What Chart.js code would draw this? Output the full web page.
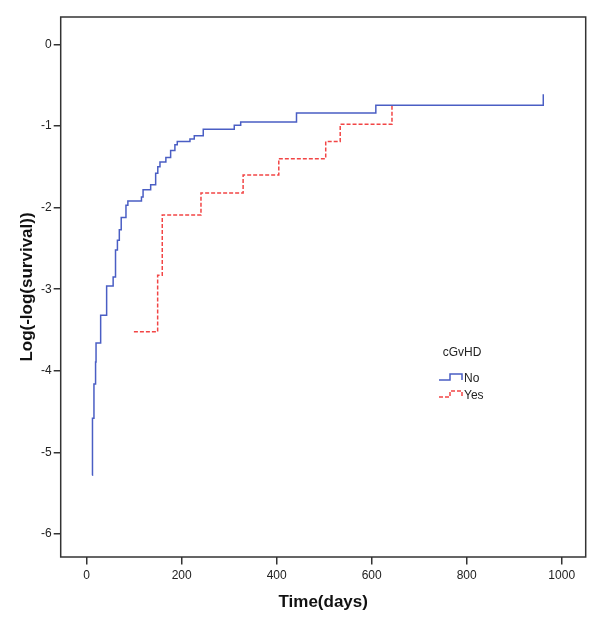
<!DOCTYPE html>
<html>
<head>
<meta charset="utf-8">
<script src="https://cdn.jsdelivr.net/npm/chart.js@4"></script>
<style>
	body { margin: 0; background: #fff; }
	#wrap { width: 600px; height: 634px; }
</style>
</head>
<body>
<div id="wrap"><canvas id="myChart"></canvas></div>
<script>
// cGvHD = No
const noTimes = [11.7, 12.2, 15.3, 18.7, 19.7, 29.4, 42, 55.7, 60.7, 64.7, 68.7, 72.7, 82.7, 86.7, 115.3, 118.7, 134.7, 145.2, 149.7, 154.3, 166.7, 176.7, 185.7, 190.7, 217.4, 226.5, 245.4, 310.7, 324.2, 441.7, 608.7, 961.2];
const noValues = [-5.28, -4.58, -4.16, -3.89, -3.66, -3.32, -2.96, -2.85, -2.52, -2.4, -2.27, -2.12, -1.97, -1.92, -1.87, -1.78, -1.72, -1.58, -1.5, -1.44, -1.385, -1.3, -1.23, -1.19, -1.16, -1.12, -1.04, -0.99, -0.95, -0.84, -0.745, -0.61];

// cGvHD = Yes
const yesTimes = [99.4, 149.4, 159.1, 240.6, 329.3, 404.4, 503.2, 533.7, 642.7];
const yesValues = [-3.52, -2.83, -2.09, -1.82, -1.6, -1.4, -1.19, -0.98, -0.745];

const xTicks = [0, 200, 400, 600, 800, 1000];
const yTicks = [0, -1, -2, -3, -4, -5, -6];

const toPoints = (xs, ys) => xs.map((x, i) => ({ x: x, y: ys[i] }));

// box round the plot and the legend inside it
const framePlugin = {
	id: "frame",
	afterDraw(chart) {
		const ctx = chart.ctx;
		const a = chart.chartArea;
		ctx.save();
		ctx.strokeStyle = "#333";
		ctx.lineWidth = 1.5;
		ctx.strokeRect(a.left, a.top, a.right - a.left, a.bottom - a.top);

		// legend
		ctx.fillStyle = "#222";
		ctx.font = "12px 'Liberation Sans', Arial, sans-serif";
		ctx.textAlign = "center";
		ctx.textBaseline = "middle";
		ctx.fillText("cGvHD", 462, 353);

		ctx.textAlign = "left";
		chart.data.datasets.forEach((ds, i) => {
			const y = 380 + i * 17;
			ctx.beginPath();
			ctx.strokeStyle = ds.borderColor;
			ctx.lineWidth = ds.borderWidth;
			ctx.setLineDash(ds.borderDash || []);
			ctx.moveTo(439, y);
			ctx.lineTo(450, y);
			ctx.lineTo(450, y - 6);
			ctx.lineTo(462, y - 6);
			ctx.lineTo(462, y);
			ctx.stroke();
			ctx.setLineDash([]);
			ctx.fillStyle = "#222";
			ctx.fillText(ds.label, 464, y - 1);
		});
		ctx.restore();
	},
};

const tickFont = { family: "'Liberation Sans', Arial, sans-serif", size: 12 };
const titleFont = { family: "'Liberation Sans', Arial, sans-serif", size: 17, weight: "bold" };

const config = {
	type: "line",
	data: {
		datasets: [
			{
				label: "No",
				data: toPoints(noTimes, noValues),
				borderColor: "#4a5ec4",
				borderWidth: 1.5,
				stepped: true,
				pointRadius: 0,
				fill: false,
			},
			{
				label: "Yes",
				data: toPoints(yesTimes, yesValues),
				borderColor: "#f24545",
				borderWidth: 1.5,
				borderDash: [4, 2],
				stepped: true,
				pointRadius: 0,
				fill: false,
			},
		],
	},
	options: {
		responsive: true,
		maintainAspectRatio: false,
		animation: false,
		layout: { padding: { top: 17, right: 14.3, left: 0, bottom: 0 } },
		plugins: {
			legend: { display: false },
			tooltip: { enabled: false },
		},
		scales: {
			x: {
				type: "linear",
				min: -54.7,
				max: 1050.5,
				afterBuildTicks: (scale) => {
					scale.ticks = xTicks.map((v) => ({ value: v }));
				},
				afterFit: (scale) => {
					scale.height = 77;
				},
				border: { display: false },
				grid: { drawOnChartArea: false, drawTicks: true, tickLength: 7.5, color: "#333", lineWidth: 1.5 },
				ticks: { font: tickFont, color: "#222", padding: 4, maxRotation: 0, callback: (v) => String(v) },
				title: { display: true, text: "Time(days)", font: titleFont, color: "#111", padding: { top: 0, bottom: 21 } },
			},
			y: {
				min: -6.28,
				max: 0.335,
				afterBuildTicks: (scale) => {
					scale.ticks = yTicks.map((v) => ({ value: v }));
				},
				afterFit: (scale) => {
					scale.width = 60.7;
				},
				border: { display: false },
				grid: { drawOnChartArea: false, drawTicks: true, tickLength: 7, color: "#333", lineWidth: 1.5 },
				ticks: { font: tickFont, color: "#222", padding: 2, callback: (v) => String(v) },
				title: { display: true, text: "Log(-log(survival))", font: titleFont, color: "#111", padding: { top: 17, bottom: 0 } },
			},
		},
	},
	plugins: [framePlugin],
};

new Chart(document.getElementById("myChart"), config);
</script>
</body>
</html>
